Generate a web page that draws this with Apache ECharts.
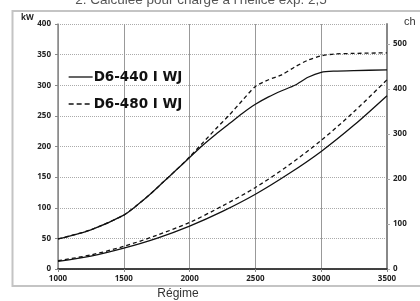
<!DOCTYPE html>
<html>
<head>
<meta charset="utf-8">
<script src="https://cdn.jsdelivr.net/npm/echarts@6/dist/echarts.min.js"></script>
<style>
  html, body { margin: 0; padding: 0; background: #fff; }
  #chart { width: 420px; height: 301px; }
</style>
</head>
<body>
<div id="chart"></div>
<script>
// engine speed (rpm) for the power curves
const rpmPower = [1000, 1250, 1500, 1600, 1700, 1800, 1900, 2000, 2100, 2200, 2300, 2400, 2500, 2600, 2700, 2800, 2900, 3000, 3100, 3250, 3500];
const power440 = [49, 64, 88, 104, 122, 142, 162, 182, 202, 220, 237, 254, 269, 281, 291, 300, 313, 321, 323, 324, 325];
const power480 = [49, 64, 88, 104, 122, 142, 162, 183, 206, 229, 251, 275, 298, 309, 317, 330, 341, 348, 351, 352, 353];

// propeller load curves
const rpmProp = [1000, 1250, 1500, 1750, 2000, 2250, 2500, 2750, 3000, 3250, 3500];
const prop440 = [12.5, 21, 34, 50, 70, 94, 122, 155, 192, 235, 283];
const prop480 = [13.5, 23, 37, 55, 76, 103, 133, 169, 210, 257, 309];

const seriesNames = ['D6-440 I WJ', 'D6-480 I WJ'];
const titleText = '2. Calculée pour charge à l\u2019hélice exp. 2,5';

const zip = (xs, ys) => xs.map((x, i) => [x, ys[i]]);

const chart = echarts.init(document.getElementById('chart'));

const tickFont = { color: '#222', fontSize: 8, fontWeight: 'bold', fontFamily: 'Open Sans' };
const solid = { color: '#111', width: 1.3, type: 'solid' };
const dashed = { color: '#111', width: 1.3, type: [4, 3] };

chart.setOption({
  animation: false,
  backgroundColor: '#fff',
  grid: { left: 58, right: 33, top: 24, bottom: 32 },
  legend: {
    data: [
      { name: seriesNames[0], lineStyle: { type: 'solid', width: 1.3, color: '#111' } },
      { name: seriesNames[1], lineStyle: { type: [5, 3], width: 1.3, color: '#111' } }
    ],
    orient: 'vertical',
    left: 63,
    top: 65,
    itemWidth: 24,
    itemHeight: 14,
    itemGap: 13,
    itemStyle: { color: 'transparent', borderWidth: 0, opacity: 0 },
    textStyle: { color: '#111', fontSize: 13.5, fontWeight: 'bold', fontFamily: 'DejaVu Sans', padding: [0, 0, 0, -4] }
  },
  graphic: [
    { type: 'rect', shape: { x: 12.5, y: 11, width: 420, height: 275 }, style: { fill: 'none', stroke: '#c4c4c4', lineWidth: 2 }, z: -1 },
    { type: 'text', x: 201, y: 7, style: { text: titleText, fill: '#555', font: '13.5px "Liberation Sans"', align: 'center', verticalAlign: 'bottom' } },
    { type: 'text', x: 21, y: 18, style: { text: 'kW', fill: '#222', font: 'bold 8px "Open Sans"', verticalAlign: 'middle' } },
    { type: 'text', x: 404, y: 21.5, style: { text: 'ch', fill: '#333', font: '11px "Liberation Sans"', verticalAlign: 'middle' } },
    { type: 'text', x: 178, y: 294, style: { text: 'Régime', fill: '#333', font: '12px "Liberation Sans"', align: 'center', verticalAlign: 'middle' } }
  ],
  xAxis: [
    {
      type: 'value', min: 1000, max: 3500, interval: 500,
      axisLine: { lineStyle: { color: '#888', width: 1.5 } },
      axisTick: { show: true, length: 3, lineStyle: { color: '#888' } },
      axisLabel: Object.assign({ margin: 6, formatter: v => String(v) }, tickFont),
      splitLine: { show: true, lineStyle: { color: '#999', width: 1 } }
    },
    {
      type: 'value', position: 'top', min: 1000, max: 3500, interval: 500,
      axisLine: { lineStyle: { color: '#222', width: 1.5 } },
      axisTick: { show: false }, axisLabel: { show: false }, splitLine: { show: false }
    }
  ],
  yAxis: [
    {
      type: 'value', min: 0, max: 400, interval: 50,
      axisLine: { show: true, lineStyle: { color: '#888', width: 1.5 } },
      axisTick: { show: true, length: 3, lineStyle: { color: '#888' } },
      axisLabel: Object.assign({ margin: 7 }, tickFont),
      splitLine: { show: true, lineStyle: { color: '#aaa', width: 1, type: [1, 1] } }
    },
    {
      type: 'value', position: 'right', min: 0, max: 544, interval: 100,
      axisLine: { show: true, lineStyle: { color: '#888', width: 2 } },
      axisTick: { show: true, length: 3, lineStyle: { color: '#aaa' } },
      axisLabel: Object.assign({ margin: 6, showMaxLabel: false }, tickFont),
      splitLine: { show: false }
    }
  ],
  series: [
    { name: seriesNames[0], type: 'line', showSymbol: false, symbol: 'none', smooth: 0.25, data: zip(rpmPower, power440), lineStyle: solid, itemStyle: { color: '#111' } },
    { name: seriesNames[1], type: 'line', showSymbol: false, symbol: 'none', smooth: 0.25, data: zip(rpmPower, power480), lineStyle: dashed, itemStyle: { color: '#111' } },
    { name: seriesNames[0], type: 'line', showSymbol: false, symbol: 'none', smooth: 0.3, data: zip(rpmProp, prop440), lineStyle: solid, itemStyle: { color: '#111' } },
    { name: seriesNames[1], type: 'line', showSymbol: false, symbol: 'none', smooth: 0.3, data: zip(rpmProp, prop480), lineStyle: dashed, itemStyle: { color: '#111' } }
  ]
});
</script>
</body>
</html>
